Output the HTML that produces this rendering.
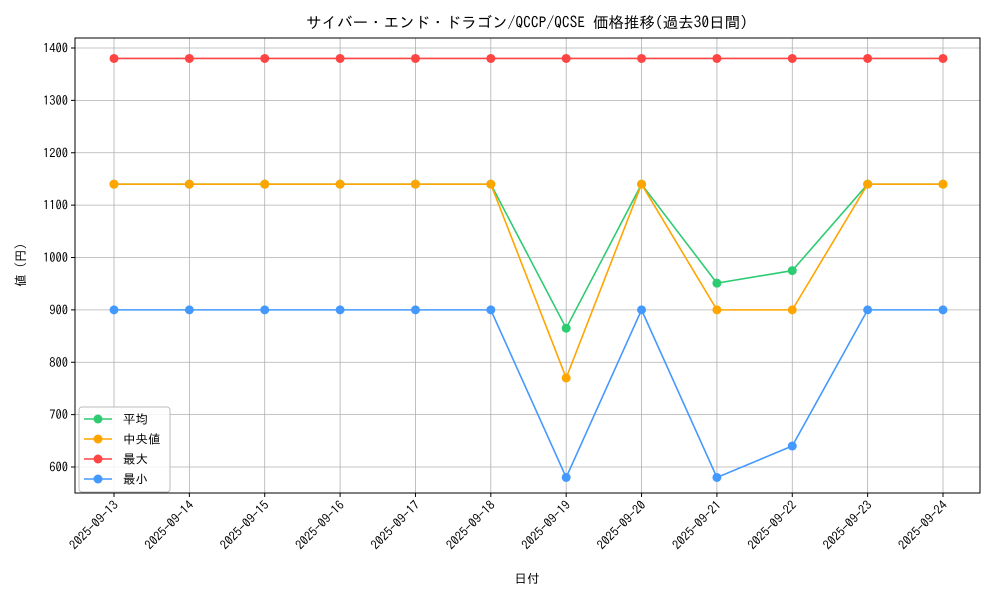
<!DOCTYPE html>
<html><head><meta charset="utf-8"><style>
body{margin:0;background:#fff}
svg text{font-family:"IPAGothic","Liberation Sans","Noto Sans CJK JP",sans-serif;fill:#000}
</style></head><body>
<svg id="c" width="1000" height="600" xmlns="http://www.w3.org/2000/svg"></svg>
<script>
const categories=["2025-09-13","2025-09-14","2025-09-15","2025-09-16","2025-09-17","2025-09-18","2025-09-19","2025-09-20","2025-09-21","2025-09-22","2025-09-23","2025-09-24"];
const avgValues=[1140,1140,1140,1140,1140,1140,865,1140,951,975,1140,1140];
const medianValues=[1140,1140,1140,1140,1140,1140,770,1140,900,900,1140,1140];
const maxValues=[1380,1380,1380,1380,1380,1380,1380,1380,1380,1380,1380,1380];
const minValues=[900,900,900,900,900,900,580,900,580,640,900,900];
const yTicks=[600,700,800,900,1000,1100,1200,1300,1400];
const seriesNames=["平均","中央値","最大","最小"];
const NS="http://www.w3.org/2000/svg";
const svg=document.getElementById('c');
const L=75,R=980,T=38,B=493;
const x=i=>114+i*(943-114)/(categories.length-1);
const y=v=>467-(v-600)*(467-48)/800;
function el(t,a,p){const e=document.createElementNS(NS,t);for(const k in a)e.setAttribute(k,a[k]);(p||svg).appendChild(e);return e;}
categories.forEach((c,i)=>{
 const g=el('line',{x1:x(i),x2:x(i),y1:T,y2:B,stroke:'#b0b0b0','stroke-width':0.8});
 
 
 el('line',{x1:x(i),x2:x(i),y1:B,y2:B+4,stroke:'#000'});
 const t=el('text',{x:x(i)+5,y:B+13,'font-size':12.5,'text-anchor':'end',transform:`rotate(-45 ${x(i)+5} ${B+13})`});
 t.textContent=c;
 
 
});
yTicks.forEach(v=>{
 const g=el('line',{x1:L,x2:R,y1:y(v),y2:y(v),stroke:'#b0b0b0','stroke-width':0.8});
 
 
 el('line',{x1:L-4,x2:L,y1:y(v),y2:y(v),stroke:'#000'});
 const t=el('text',{x:L-7,y:y(v)+4.5,'font-size':12.5,'text-anchor':'end'});
 t.textContent=v;
 
 
});
const frame=el('rect',{x:L,y:T,width:R-L,height:B-T,fill:'none',stroke:'#000','stroke-width':1});


const series=[[avgValues,'#2ecc71','series-average'],[medianValues,'#ffa500','series-median'],[maxValues,'#ff4444','series-max'],[minValues,'#4499ff','series-min']];
series.forEach(([vals,col,name])=>{
 const g=el('g',{});
 
 
 el('polyline',{points:vals.map((v,i)=>x(i)+','+y(v)).join(' '),fill:'none',stroke:col,'stroke-width':1.6},g);
 vals.forEach((v,i)=>{const c=el('circle',{cx:x(i),cy:y(v),r:4.5,fill:col},g);
  
  });
});
const lg=el('g',{});


el('rect',{x:79,y:407,width:91,height:85,rx:3,fill:'#fff','fill-opacity':0.85,stroke:'#bbb'},lg);
series.forEach(([v,col],k)=>{
 const yy=419+k*20;
 el('line',{x1:84,x2:112,y1:yy,y2:yy,stroke:col,'stroke-width':1.6},lg);
 el('circle',{cx:98,cy:yy,r:4.5,fill:col},lg);
 const t=el('text',{x:123,y:yy+4.5,'font-size':12.5},lg);
 t.textContent=seriesNames[k];
 
 
});
const title=el('text',{x:527,y:28,'font-size':15.5,'text-anchor':'middle'});
title.textContent='サイバー・エンド・ドラゴン/QCCP/QCSE 価格推移(過去30日間)';


const xt=el('text',{x:527,y:583,'font-size':12.5,'text-anchor':'middle'});
xt.textContent='日付';


const yt=el('text',{x:25,y:265,'font-size':12.5,'text-anchor':'middle',transform:'rotate(-90 25 265)'});
yt.textContent='値 (円)';


</script>
</body></html>
